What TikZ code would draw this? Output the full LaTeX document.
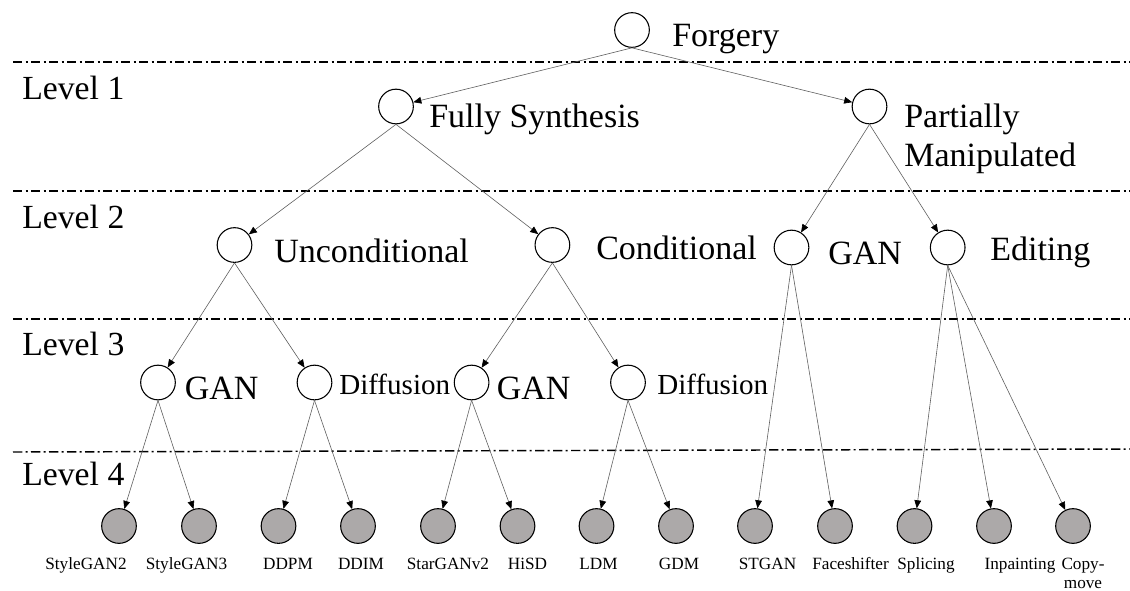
\documentclass[tikz,border=0pt]{standalone}
\usepackage{fontspec}
\setmainfont{Liberation Serif}
\usetikzlibrary{arrows.meta}
\definecolor{leafgray}{RGB}{172,169,169}
\definecolor{edgegray}{RGB}{95,95,95}
\begin{document}
\begin{tikzpicture}[x=0.75pt,y=-0.75pt,
 nd/.style={circle,draw=black,line width=0.8pt,fill=white,minimum size=26pt,inner sep=0pt},
 leaf/.style={nd,fill=leafgray},
 big/.style={anchor=base west,inner sep=0pt,font=\fontsize{25.5}{29}\selectfont},
 lvl/.style={anchor=base west,inner sep=0pt,font=\fontsize{25.3}{29}\selectfont},
 midt/.style={anchor=base west,inner sep=0pt,font=\fontsize{21.8}{26}\selectfont},
 small/.style={anchor=base,inner sep=0pt,font=\fontsize{12.9}{14.25}\selectfont,align=center},
 sepline/.style={line width=1.1pt,dash pattern=on 7pt off 2.5pt on 1.5pt off 2.5pt},
 edge/.style={draw=edgegray,line width=0.45pt,-{Triangle[length=6pt,width=5pt,color=black]}}
]
\useasboundingbox (0,0) rectangle (1130,590);
% separators
\draw[sepline] (13,62) -- (1130,62);
\draw[sepline] (13,191) -- (1130,191);
\draw[sepline] (13,319) -- (1130,319);
\draw[sepline] (13,452) -- (1130,449);
% level labels
\node[lvl] (lv1) at (22,99) {Level 1};
\node[lvl] (lv2) at (22,228) {Level 2};
\node[lvl] (lv3) at (22,355) {Level 3};
\node[lvl] (lv4) at (22,485) {Level 4};
% nodes
\node[nd] (forg) at (632,30) {};
\node[nd] (fs) at (396,106.5) {};
\node[nd] (pm) at (869.5,106.5) {};
\node[nd] (unc) at (234.5,245) {};
\node[nd] (cond) at (552.4,245) {};
\node[nd] (ganr) at (791.5,247.5) {};
\node[nd] (edit) at (947.7,247.5) {};
\node[nd] (gana) at (158,382.5) {};
\node[nd] (diffa) at (314.5,382.5) {};
\node[nd] (ganb) at (471.6,382.5) {};
\node[nd] (diffb) at (628,382.5) {};
% leaves
\node[leaf] (sg2) at (119,526) {};
\node[leaf] (sg3) at (199,526) {};
\node[leaf] (ddpm) at (278.5,526) {};
\node[leaf] (ddim) at (358,526) {};
\node[leaf] (star) at (438,526) {};
\node[leaf] (hisd) at (517.5,526) {};
\node[leaf] (ldm) at (596.5,526) {};
\node[leaf] (gdm) at (676,526) {};
\node[leaf] (stgan) at (755,526) {};
\node[leaf] (fshift) at (835,526) {};
\node[leaf] (splice) at (914.5,526) {};
\node[leaf] (inpaint) at (994,526) {};
\node[leaf] (copy) at (1073,526) {};
% labels
\node[big] (tforg) at (672,46) {Forgery};
\node[big] (tfs) at (429,127) {Fully Synthesis};
\node[big] (tpm1) at (904,127) {Partially};
\node[big] (tpm2) at (904,166) {Manipulated};
\node[big] (tunc) at (274,262) {Unconditional};
\node[big] (tcond) at (596,259) {Conditional};
\node[big] (tganr) at (828,264) {GAN};
\node[big] (tedit) at (990,260) {Editing};
\node[big] (tgana) at (184.5,399) {GAN};
\node[midt] (tdiffa) at (339,394) {Diffusion};
\node[big] (tganb) at (496.6,399) {GAN};
\node[midt] (tdiffb) at (657,394) {Diffusion};
\node[small] (lsg2) at (86,569) {StyleGAN2};
\node[small] (lsg3) at (186.5,569) {StyleGAN3};
\node[small] (lddpm) at (288,569) {DDPM};
\node[small] (lddim) at (361,569) {DDIM};
\node[small] (lstar) at (448,569) {StarGANv2};
\node[small] (lhisd) at (527.5,569) {HiSD};
\node[small] (lldm) at (598.5,569) {LDM};
\node[small] (lgdm) at (679,569) {GDM};
\node[small] (lstgan) at (767.5,569) {STGAN};
\node[small] (lfs) at (850.5,569) {Faceshifter};
\node[small] (lspl) at (926,569) {Splicing};
\node[small] (linp) at (1020,569) {Inpainting};
\node[small] (lcopy) at (1083,588) {Copy-\\move};
% edges
\draw[edge] (forg.south) -- (fs);
\draw[edge] (forg.south) -- (pm);
\draw[edge] (fs.south) -- (unc);
\draw[edge] (fs.south) -- (cond);
\draw[edge] (pm.south) -- (ganr);
\draw[edge] (pm.south) -- (edit);
\draw[edge] (unc.south) -- (gana);
\draw[edge] (unc.south) -- (diffa);
\draw[edge] (cond.south) -- (ganb);
\draw[edge] (cond.south) -- (diffb);
\draw[edge] (gana.south) -- (sg2);
\draw[edge] (gana.south) -- (sg3);
\draw[edge] (diffa.south) -- (ddpm);
\draw[edge] (diffa.south) -- (ddim);
\draw[edge] (ganb.south) -- (star);
\draw[edge] (ganb.south) -- (hisd);
\draw[edge] (diffb.south) -- (ldm);
\draw[edge] (diffb.south) -- (gdm);
\draw[edge] (ganr.south) -- (stgan);
\draw[edge] (ganr.south) -- (fshift);
\draw[edge] (edit.south) -- (splice);
\draw[edge] (edit.south) -- (inpaint);
\draw[edge] (edit.south) -- (copy);
\end{tikzpicture}
\end{document}
